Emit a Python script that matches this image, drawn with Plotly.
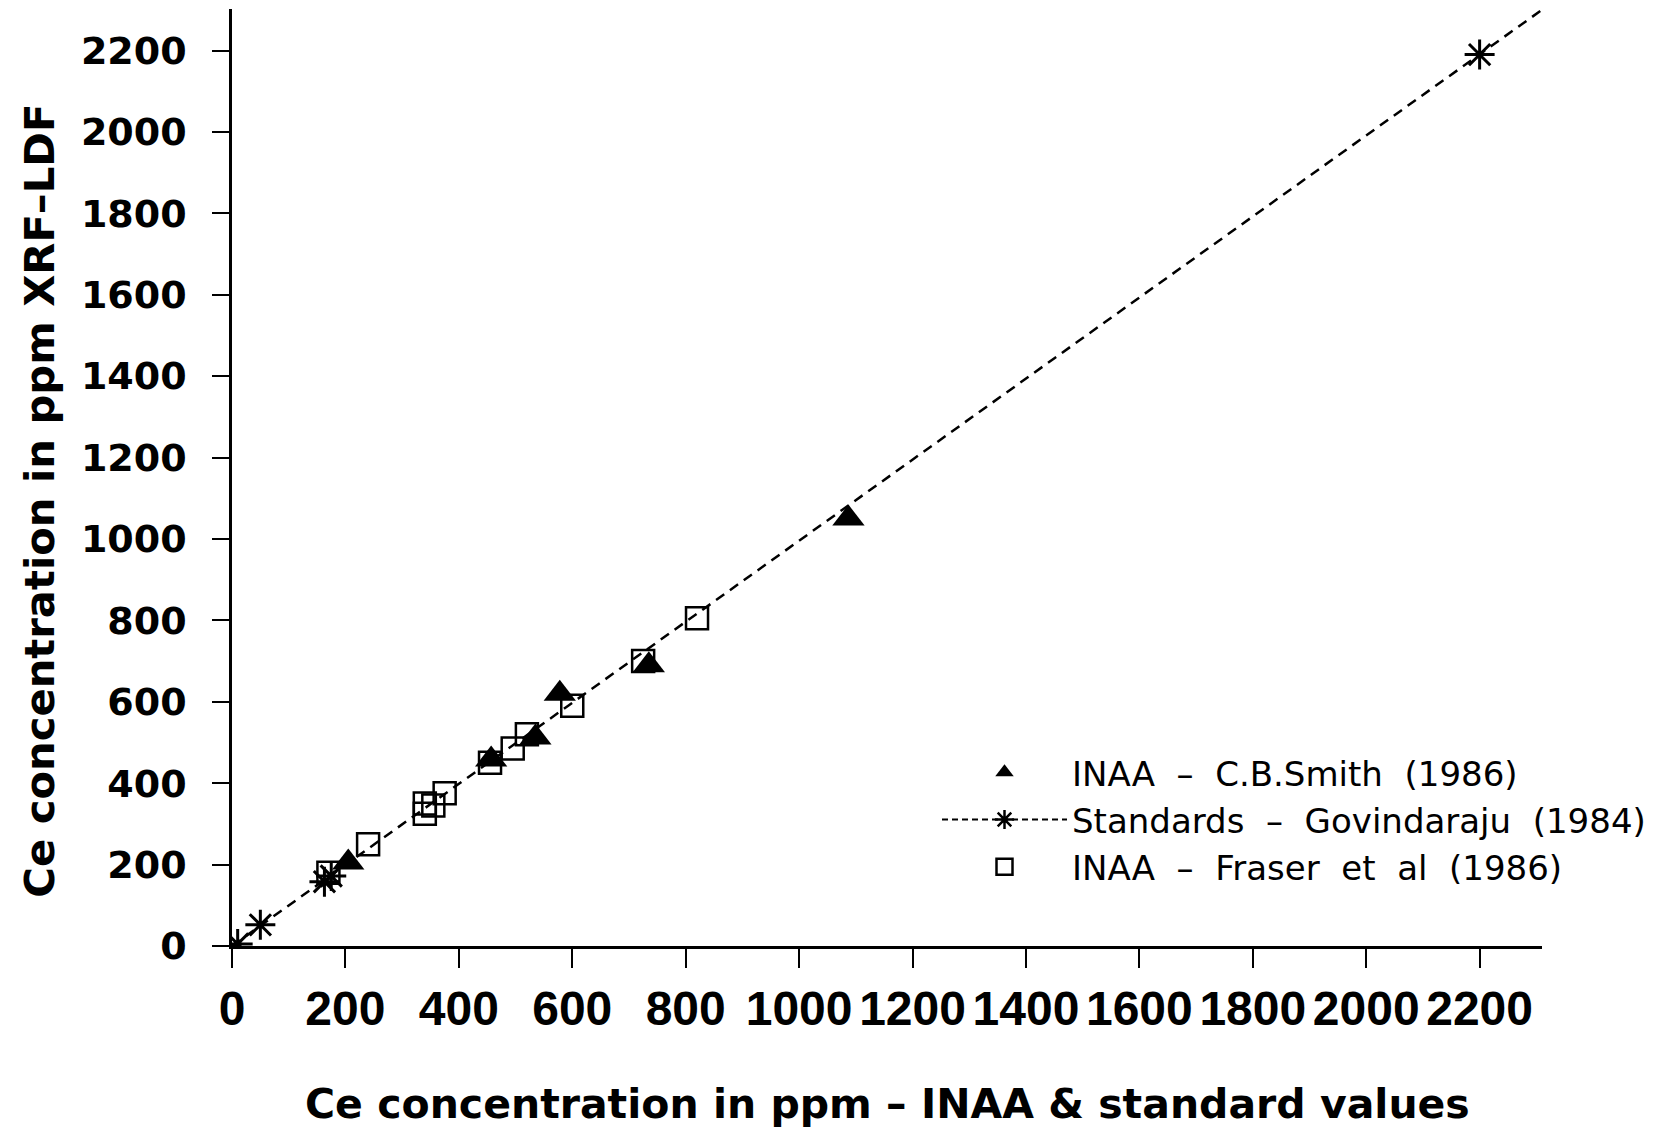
import plotly.graph_objects as go

# ---- data ----
smith_x = [205, 457, 535, 578, 735, 1087]
smith_y = [205, 458, 512, 620, 690, 1050]

standards_x = [10, 50, 163, 175, 2200]
standards_y = [5, 52, 158, 172, 2190]

fraser_x = [170, 240, 340, 340, 355, 375, 455, 495, 520, 600, 725, 820]
fraser_y = [180, 250, 325, 350, 345, 375, 450, 485, 520, 590, 700, 805]

fit_x = [0, 2310]
fit_y = [0, 2300]

tick_vals = [0, 200, 400, 600, 800, 1000, 1200, 1400, 1600, 1800, 2000, 2200]
tick_text = [str(v) for v in tick_vals]

smith_name = "INAA  –  C.B.Smith  (1986)"
std_name = "Standards  –  Govindaraju  (1984)"
fraser_name = "INAA  –  Fraser  et  al  (1986)"
x_title = "Ce concentration in ppm – INAA & standard values"
y_title = "Ce concentration in ppm XRF–LDF"

# ---- figure ----
fig = go.Figure()

fig.add_trace(go.Scatter(
    x=fit_x, y=fit_y, mode="lines", showlegend=False, hoverinfo="skip",
    line=dict(color="black", width=2.5, dash="10px,7px")))

fig.add_trace(go.Scatter(
    x=smith_x, y=smith_y, mode="markers", name=smith_name,
    marker=dict(symbol="triangle-up", size=28, color="black")))

fig.add_trace(go.Scatter(
    x=[None], y=[None], mode="lines+markers", name=std_name,
    line=dict(color="black", width=2, dash="6px,4px"),
    marker=dict(symbol="asterisk-open", size=22, color="black",
                line=dict(width=2.5, color="black"))))

fig.add_trace(go.Scatter(
    x=standards_x, y=standards_y, mode="markers", showlegend=False,
    marker=dict(symbol="asterisk-open", size=25, color="black",
                line=dict(width=3, color="black"))))

fig.add_trace(go.Scatter(
    x=fraser_x, y=fraser_y, mode="markers", name=fraser_name,
    marker=dict(symbol="square-open", size=22, color="black",
                line=dict(width=2.5, color="black"))))

# the page body has an 8px margin, so margins are shifted by 8px
fig.update_layout(
    width=1671, height=1128, autosize=False,
    margin=dict(l=224, r=137, t=1, b=190),
    paper_bgcolor="white", plot_bgcolor="white",
    showlegend=True,
    legend=dict(x=(937 - 232) / 1310, xanchor="left",
                y=(946.3 - 744) / 937, yanchor="top",
                font=dict(family="DejaVu Sans", size=34, color="black"),
                itemwidth=125, bgcolor="rgba(0,0,0,0)", tracegroupgap=0),
    xaxis=dict(range=[0, 2310], tickmode="array", tickvals=tick_vals, ticktext=tick_text,
               showline=True, linewidth=2.5, linecolor="black",
               ticks="outside", ticklen=19, tickwidth=2, tickcolor="black",
               tickangle=0, automargin=False,
               tickfont=dict(family="Liberation Sans", size=48,
                             weight="bold", color="black"),
               showgrid=False, zeroline=False),
    yaxis=dict(range=[0, 2302], tickmode="array", tickvals=tick_vals, ticktext=tick_text,
               showline=True, linewidth=2.5, linecolor="black",
               ticks="outside", ticklen=17, tickwidth=2, tickcolor="black",
               automargin=False,
               tickfont=dict(family="DejaVu Sans", size=38, weight="bold", color="black"),
               ticklabelstandoff=18,
               showgrid=False, zeroline=False),
    annotations=[
        dict(text=x_title, xref="paper", yref="paper",
             x=(887 - 232) / 1310, y=(946.3 - 1104) / 937,
             xanchor="center", yanchor="middle", showarrow=False,
             font=dict(family="DejaVu Sans", size=41, weight="bold", color="black")),
        dict(text=y_title, xref="paper", yref="paper",
             x=(40 - 232) / 1310, y=(946.3 - 501) / 937, textangle=-90,
             xanchor="center", yanchor="middle", showarrow=False,
             font=dict(family="DejaVu Sans", size=41.7, weight="bold", color="black")),
    ],
)

fig.write_html("out.html")
